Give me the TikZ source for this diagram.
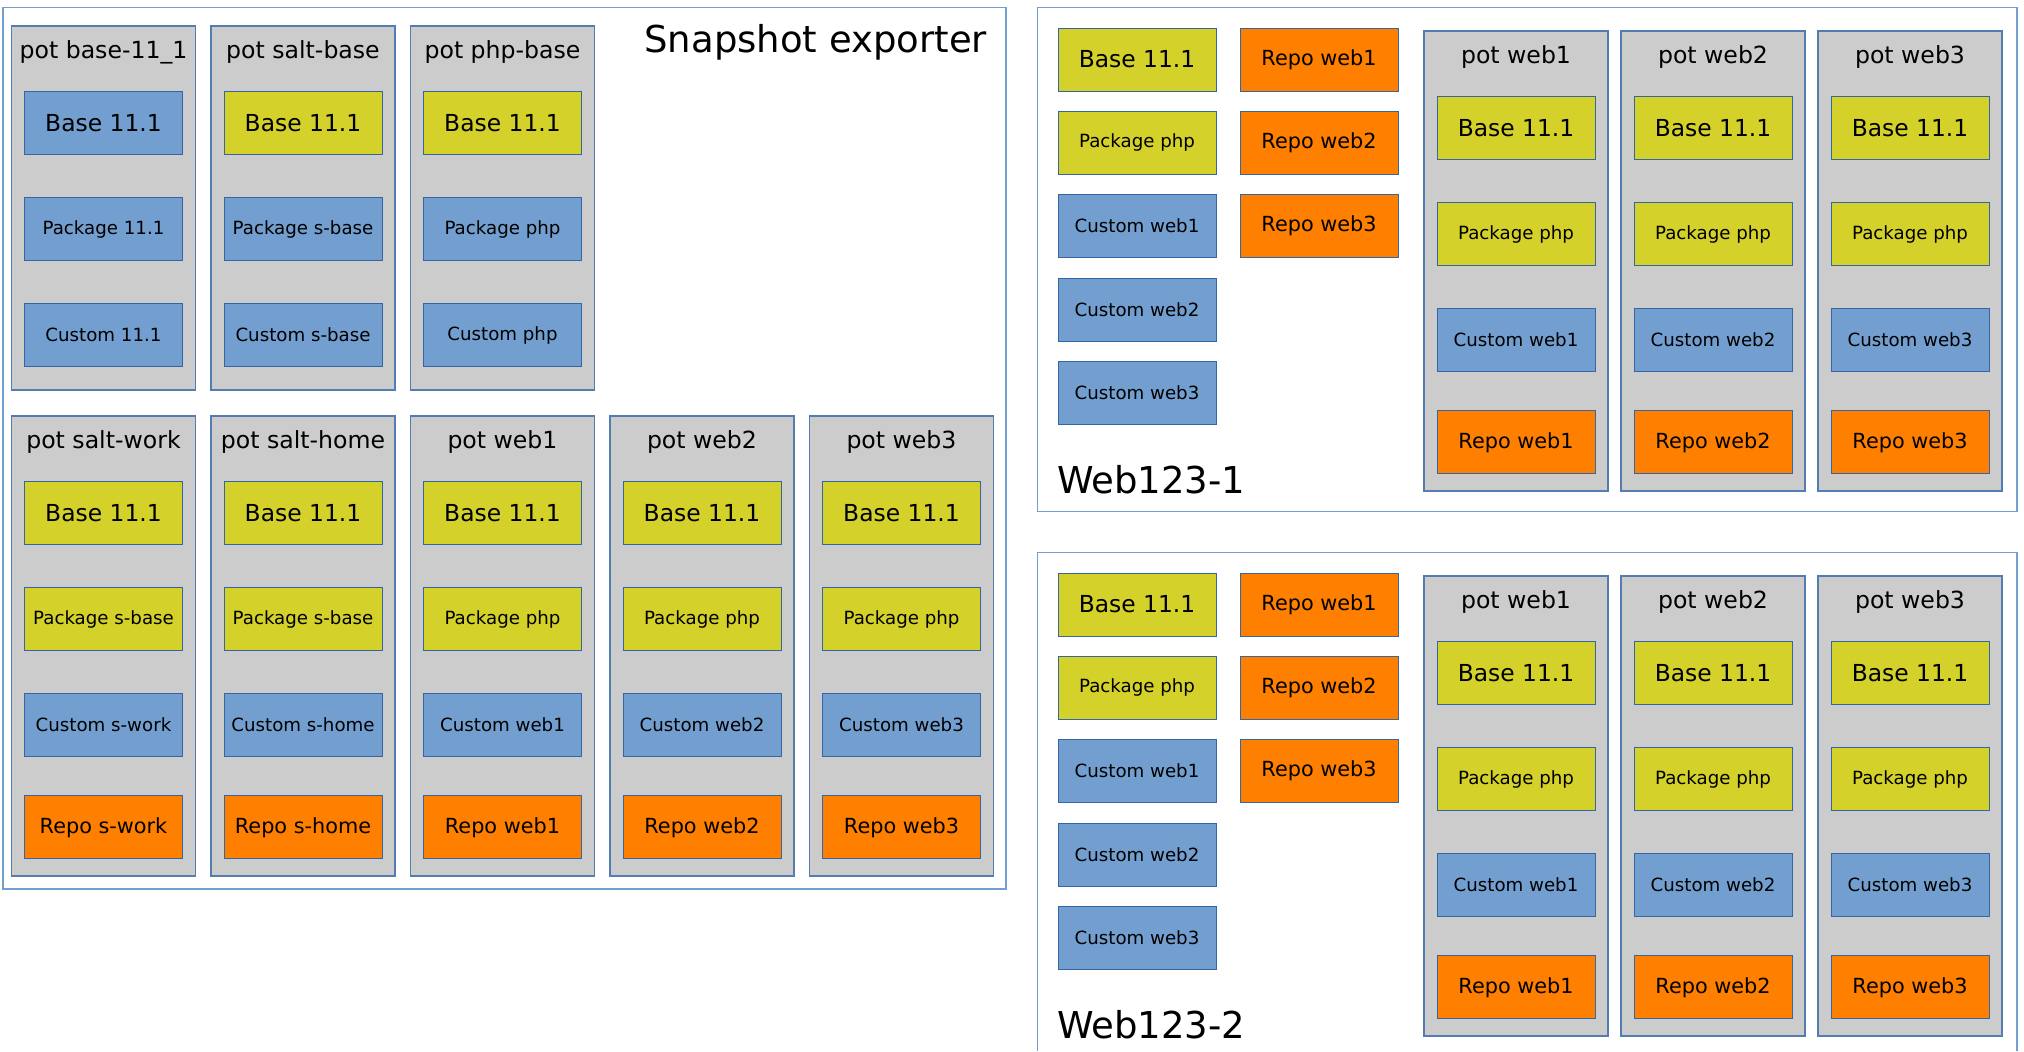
\documentclass[tikz,border=0pt]{standalone}
\usepackage{fontspec}
\setmainfont{DejaVu Sans}
\usetikzlibrary{positioning}

\definecolor{frameblue}{HTML}{729FCF}
\definecolor{edgeblue}{HTML}{3465A4}
\definecolor{layerblue}{HTML}{729FCF}
\definecolor{potgray}{HTML}{CCCCCC}
\definecolor{limey}{HTML}{D4D12A}
\definecolor{repoorange}{HTML}{FF7F00}

\begin{document}
\begin{tikzpicture}[
  x=0.5pt, y=-0.5pt,
  node distance=21.5pt and 12pt,
  groupframe/.style={draw=frameblue, line width=0.6pt},
  pot/.style={draw=edgeblue!85, fill=potgray, line width=0.6pt, anchor=north west, inner sep=0pt, outer sep=0pt, minimum width=92pt},
  pot3/.style={pot, minimum height=182pt},
  pot4/.style={pot, minimum height=230pt},
  pottitle/.style={anchor=base, font=\fontsize{11.8}{14}\selectfont},
  item/.style={draw=edgeblue, line width=0.5pt, inner sep=0pt, outer sep=0pt, minimum width=79pt, minimum height=31.5pt},
  snapbox/.style={item, fill=limey},
  custbox/.style={item, fill=layerblue},
  repobox/.style={item, fill=repoorange, font=\fontsize{10.4}{12.5}\selectfont},
  bigtxt/.style={font=\fontsize{11.7}{14}\selectfont},
  smalltxt/.style={font=\fontsize{9.1}{11}\selectfont},
  heading/.style={font=\fontsize{18.5}{22}\selectfont}
]
\useasboundingbox (0,0) rectangle (2024,1051);

% exporter host with its pots
\draw[groupframe] (3,7.5) rectangle (1006,889);
\node[heading, anchor=base east] (snap) at (994,52.3) {Snapshot exporter};

\node[pot3] (pbase) at (11.5,26) {};
\node[pottitle] (pbase-t) at ([yshift=-16.2pt]pbase.north) {pot base-11\_1};
\node[custbox, bigtxt, below=32.8pt of pbase.north] (pbase-b) {Base 11.1};
\node[custbox, smalltxt, below=of pbase-b] (pbase-p) {Package 11.1};
\node[custbox, smalltxt, below=of pbase-p] (pbase-c) {Custom 11.1};

\node[pot3] (psbase) at (211,26) {};
\node[pottitle] (psbase-t) at ([yshift=-16.2pt]psbase.north) {pot salt-base};
\node[snapbox, bigtxt, below=32.8pt of psbase.north] (psbase-b) {Base 11.1};
\node[custbox, smalltxt, below=of psbase-b] (psbase-p) {Package s-base};
\node[custbox, smalltxt, below=of psbase-p] (psbase-c) {Custom s-base};

\node[pot3] (pphp) at (410.5,26) {};
\node[pottitle] (pphp-t) at ([yshift=-16.2pt]pphp.north) {pot php-base};
\node[snapbox, bigtxt, below=32.8pt of pphp.north] (pphp-b) {Base 11.1};
\node[custbox, smalltxt, below=of pphp-b] (pphp-p) {Package php};
\node[custbox, smalltxt, below=of pphp-p] (pphp-c) {Custom php};

\node[pot4] (pswork) at (11.5,416) {};
\node[pottitle] (pswork-t) at ([yshift=-16.2pt]pswork.north) {pot salt-work};
\node[snapbox, bigtxt, below=32.8pt of pswork.north] (pswork-b) {Base 11.1};
\node[snapbox, smalltxt, below=of pswork-b] (pswork-p) {Package s-base};
\node[custbox, smalltxt, below=of pswork-p] (pswork-c) {Custom s-work};
\node[repobox, below=19.6pt of pswork-c] (pswork-r) {Repo s-work};

\node[pot4] (pshome) at (211,416) {};
\node[pottitle] (pshome-t) at ([yshift=-16.2pt]pshome.north) {pot salt-home};
\node[snapbox, bigtxt, below=32.8pt of pshome.north] (pshome-b) {Base 11.1};
\node[snapbox, smalltxt, below=of pshome-b] (pshome-p) {Package s-base};
\node[custbox, smalltxt, below=of pshome-p] (pshome-c) {Custom s-home};
\node[repobox, below=19.6pt of pshome-c] (pshome-r) {Repo s-home};

\node[pot4] (pweb1) at (410.5,416) {};
\node[pottitle] (pweb1-t) at ([yshift=-16.2pt]pweb1.north) {pot web1};
\node[snapbox, bigtxt, below=32.8pt of pweb1.north] (pweb1-b) {Base 11.1};
\node[snapbox, smalltxt, below=of pweb1-b] (pweb1-p) {Package php};
\node[custbox, smalltxt, below=of pweb1-p] (pweb1-c) {Custom web1};
\node[repobox, below=19.6pt of pweb1-c] (pweb1-r) {Repo web1};

\node[pot4] (pweb2) at (610,416) {};
\node[pottitle] (pweb2-t) at ([yshift=-16.2pt]pweb2.north) {pot web2};
\node[snapbox, bigtxt, below=32.8pt of pweb2.north] (pweb2-b) {Base 11.1};
\node[snapbox, smalltxt, below=of pweb2-b] (pweb2-p) {Package php};
\node[custbox, smalltxt, below=of pweb2-p] (pweb2-c) {Custom web2};
\node[repobox, below=19.6pt of pweb2-c] (pweb2-r) {Repo web2};

\node[pot4] (pweb3) at (809.5,416) {};
\node[pottitle] (pweb3-t) at ([yshift=-16.2pt]pweb3.north) {pot web3};
\node[snapbox, bigtxt, below=32.8pt of pweb3.north] (pweb3-b) {Base 11.1};
\node[snapbox, smalltxt, below=of pweb3-b] (pweb3-p) {Package php};
\node[custbox, smalltxt, below=of pweb3-p] (pweb3-c) {Custom web3};
\node[repobox, below=19.6pt of pweb3-c] (pweb3-r) {Repo web3};

% the two web hosts, second one runs off the bottom edge
\draw[groupframe] (1037.5,7.5) rectangle (2017,511.5);
\draw[groupframe] (1037.5,1051) |- (2017,552.5) -- (2017,1051);

\foreach \g/\dy in {1/0,2/545}{
  \begin{scope}[yshift={-0.5pt*\dy}]
    \node[heading, anchor=base west] (w\g-name) at (1050,493.3) {Web123-\g};
    % snapshots received from the exporter
    \node[snapbox, bigtxt] (w\g-base) at (1137,59.6) {Base 11.1};
    \node[snapbox, smalltxt, below=10.15pt of w\g-base] (w\g-pkg) {Package php};
    \node[custbox, smalltxt, below=10.15pt of w\g-pkg] (w\g-c1) {Custom web1};
    \node[custbox, smalltxt, below=10.15pt of w\g-c1] (w\g-c2) {Custom web2};
    \node[custbox, smalltxt, below=10.15pt of w\g-c2] (w\g-c3) {Custom web3};
    \node[repobox, right=of w\g-base] (w\g-r1) {Repo web1};
    \node[repobox, right=of w\g-pkg] (w\g-r2) {Repo web2};
    \node[repobox, right=of w\g-c1] (w\g-r3) {Repo web3};
    % pots rebuilt from them
    \foreach \i/\x in {1/1424,2/1621,3/1818}{
      \node[pot4] (w\g-pot\i) at (\x,31) {};
      \node[pottitle] (w\g-pot\i-t) at ([yshift=-16.2pt]w\g-pot\i.north) {pot web\i};
      \node[snapbox, bigtxt, below=32.8pt of w\g-pot\i.north] (w\g-pot\i-b) {Base 11.1};
      \node[snapbox, smalltxt, below=of w\g-pot\i-b] (w\g-pot\i-p) {Package php};
      \node[custbox, smalltxt, below=of w\g-pot\i-p] (w\g-pot\i-c) {Custom web\i};
      \node[repobox, below=19.6pt of w\g-pot\i-c] (w\g-pot\i-r) {Repo web\i};
    }
  \end{scope}
}

\end{tikzpicture}
\end{document}
